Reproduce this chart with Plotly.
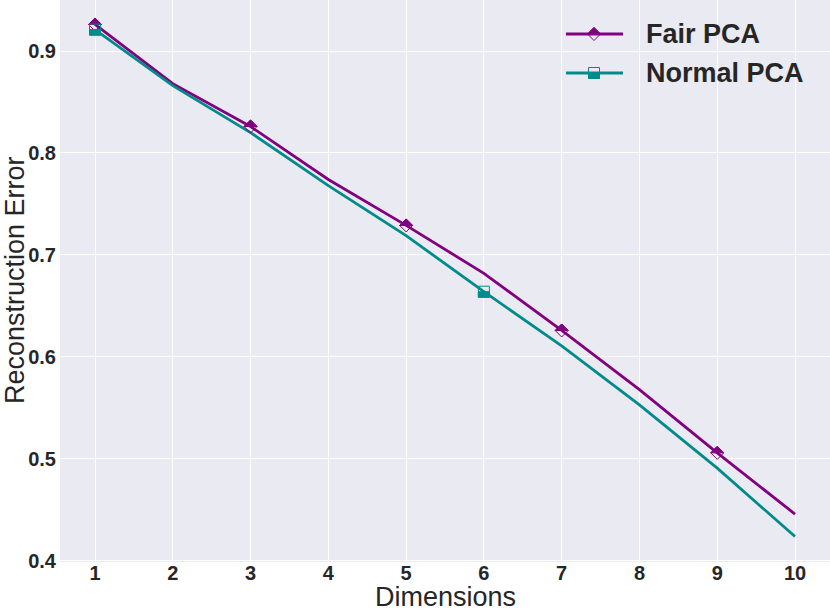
import plotly.graph_objects as go

dims = [1, 2, 3, 4, 5, 6, 7, 8, 9, 10]
fair_pca = [0.926, 0.868, 0.826, 0.774, 0.729, 0.682, 0.626, 0.568, 0.506, 0.446]
normal_pca = [0.921, 0.866, 0.820, 0.768, 0.719, 0.664, 0.611, 0.553, 0.491, 0.424]
fair_mark_every = 2
normal_mark_every = 5
series_names = ["Fair PCA", "Normal PCA"]
x_ticks = [1, 2, 3, 4, 5, 6, 7, 8, 9, 10]
y_ticks = [0.4, 0.5, 0.6, 0.7, 0.8, 0.9]

PURPLE = "#800080"
TEAL = "#008B8B"
TXT = "#262626"
FONT = "Liberation Sans, Arial, sans-serif"

fig = go.Figure()
fig.add_trace(go.Scatter(x=dims, y=fair_pca, mode="lines", name=series_names[0],
                         line=dict(color=PURPLE, width=2.8), showlegend=False))
fig.add_trace(go.Scatter(x=dims, y=normal_pca, mode="lines", name=series_names[1],
                         line=dict(color=TEAL, width=2.8), showlegend=False))

D = 6.5  # diamond half size (px)
S = 5.5  # square half size (px)
diamond_outline = f"M0,{D} L{D},0 L0,{-D} L{-D},0 Z"
diamond_top = f"M{-D},0 L0,{D} L{D},0 Z"
square_outline = f"M{-S},{-S} L{S},{-S} L{S},{S} L{-S},{S} Z"
square_bottom = f"M{-S},{-S} L{S},{-S} L{S},0 L{-S},0 Z"

shapes = []

def marker(xa, ya, outline, half, color, xref="x", yref="y"):
    shapes.append(dict(type="path", xref=xref, yref=yref, xsizemode="pixel", ysizemode="pixel",
                       xanchor=xa, yanchor=ya, path=half, fillcolor=color,
                       line=dict(color=color, width=1)))
    shapes.append(dict(type="path", xref=xref, yref=yref, xsizemode="pixel", ysizemode="pixel",
                       xanchor=xa, yanchor=ya, path=outline, fillcolor="rgba(0,0,0,0)",
                       line=dict(color=color, width=1)))

for i in range(0, len(dims), fair_mark_every):
    marker(dims[i], fair_pca[i], diamond_outline, diamond_top, PURPLE)
for i in range(0, len(dims), normal_mark_every):
    marker(dims[i], normal_pca[i], square_outline, square_bottom, TEAL)

# custom legend (paper coordinates)
plot_l, plot_w, plot_h = 60, 770, 562
def px2paper(px, py):
    return (px - plot_l) / plot_w, 1 - py / plot_h

legend_rows = [(34, PURPLE, diamond_outline, diamond_top), (73, TEAL, square_outline, square_bottom)]
annotations = []
for (py, col, outl, half), name in zip(legend_rows, series_names):
    x0, y0 = px2paper(566, py)
    x1, _ = px2paper(623, py)
    shapes.append(dict(type="line", xref="paper", yref="paper", x0=x0, x1=x1, y0=y0, y1=y0,
                       line=dict(color=col, width=2.8)))
    xm, ym = px2paper(594, py)
    marker(xm, ym, outl, half, col, xref="paper", yref="paper")
    xt, yt = px2paper(644, py)
    annotations.append(dict(xref="paper", yref="paper", x=xt, y=yt, text=name, showarrow=False,
                            xanchor="left", yanchor="middle",
                            font=dict(family=FONT, size=27, color=TXT, weight="bold")))

# axis titles
xt, yt = px2paper(445, 597)
annotations.append(dict(xref="paper", yref="paper", x=xt, y=yt, text="Dimensions", showarrow=False,
                        xanchor="center", yanchor="middle",
                        font=dict(family=FONT, size=27, color=TXT)))
xt, yt = px2paper(15, 280)
annotations.append(dict(xref="paper", yref="paper", x=xt, y=yt, text="Reconstruction Error",
                        showarrow=False, textangle=-90, xanchor="center", yanchor="middle",
                        font=dict(family=FONT, size=27, color=TXT)))

fig.update_layout(
    width=830, height=612,
    margin=dict(l=60, r=0, t=0, b=50),
    paper_bgcolor="white",
    plot_bgcolor="#EAEAF2",
    shapes=shapes,
    annotations=annotations,
    showlegend=False,
    xaxis=dict(range=[0.55, 10.45], tickvals=x_ticks, ticktext=[str(v) for v in x_ticks],
               showgrid=True, gridcolor="white", gridwidth=1, zeroline=False, showline=False,
               ticks="", ticklabelstandoff=-3, automargin=False,
               tickfont=dict(family=FONT, size=20, color=TXT, weight="bold")),
    yaxis=dict(range=[0.399, 0.95], tickvals=y_ticks, ticktext=[f"{v:.1f}" for v in y_ticks],
               showgrid=True, gridcolor="white", gridwidth=1, zeroline=False, showline=False,
               ticks="", ticklabelstandoff=3, automargin=False,
               tickfont=dict(family=FONT, size=20, color=TXT, weight="bold")),
)

fig.write_html("out.html", config={"displayModeBar": False},
               post_script="document.body.style.margin='0';document.body.style.overflow='hidden';")
